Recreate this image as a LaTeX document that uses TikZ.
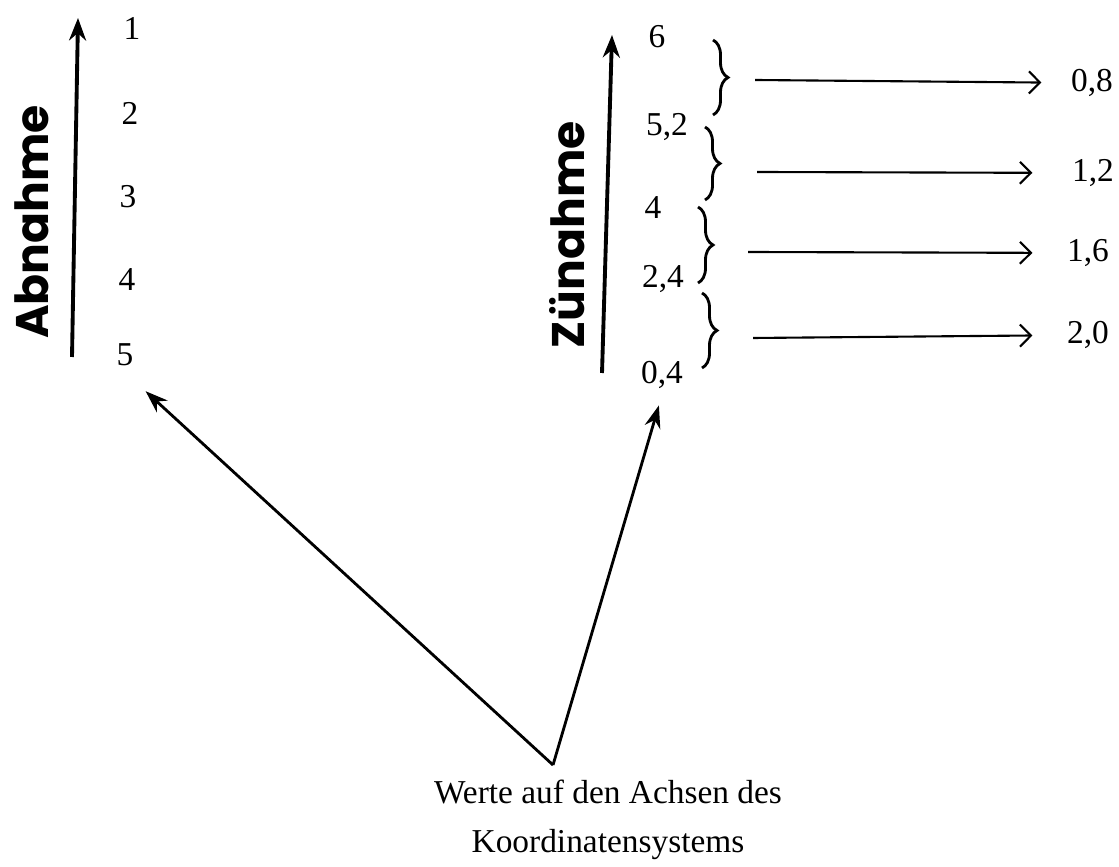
\documentclass[tikz,border=0pt]{standalone}
\usepackage{fontspec}
\setmainfont{Liberation Serif}
\newfontfamily\handfont{Poppins}
\usetikzlibrary{arrows.meta,positioning,calc,decorations.pathreplacing}

\begin{document}
\begin{tikzpicture}[font=\fontsize{19}{27.5}\selectfont,
  achse/.style={line width=2.2pt,-{Stealth[length=4.5mm,width=3.4mm]}},
  pfeil/.style={line width=1.2pt,-{Straight Barb[length=2.2mm,width=4.4mm]}},
  zeiger/.style={line width=1.6pt,-{Stealth[length=4.5mm,width=3.2mm]}},
  klammer/.style={decorate,decoration={brace,amplitude=0.3cm},line width=1.6pt},
  hand/.style={font=\handfont\bfseries\fontsize{26}{30}\selectfont,rotate=90}]
  \useasboundingbox (0,0) rectangle (22.38,17.32);
  % --- linke Achse : Abnahme ---
  \coordinate (a0) at (1.44,10.18);
  \coordinate (a1) at (1.56,16.96);
  \draw[achse] (a0) -- (a1);
  \node[hand] (abn) at (0.64,12.88) {Abnahme};
  \node (l1) at (2.64,16.76) {1};
  \node (l2) at (2.60,15.06) {2};
  \node (l3) at (2.56,13.38) {3};
  \node (l4) at (2.54,11.72) {4};
  \node (l5) at (2.50,10.22) {5};
  % --- rechte Achse : Zuenahme ---
  \coordinate (z0) at (12.04,9.86);
  \coordinate (z1) at (12.24,16.62);
  \draw[achse] (z0) -- (z1);
  \node[hand] (zun) at (11.34,12.62) {Zünahme};
  \node (r6)  at (13.14,16.58) {6};
  \node (r52) at (13.34,14.78) {5,2};
  \node (r4)  at (13.06,13.16) {4};
  \node (r24) at (13.26,11.74) {2,4};
  \node (r04) at (13.24,9.82)  {0,4};
  % Klammern zwischen den Werten
  \draw[klammer] (14.26,16.52) -- (14.26,15.02);
  \draw[klammer] (14.10,14.78) -- (14.10,13.32);
  \draw[klammer] (13.96,13.18) -- (13.96,11.66);
  \draw[klammer] (14.04,11.46) -- (14.04,9.96);
  % Differenzen
  \node (w08) at (21.84,15.66) {0,8};
  \node (w12) at (21.86,13.86) {1,2};
  \node (w16) at (21.76,12.26) {1,6};
  \node (w20) at (21.76,10.62) {2,0};
  \coordinate (k1) at (15.10,15.72);
  \coordinate (k2) at (15.14,13.88);
  \coordinate (k3) at (14.96,12.28);
  \coordinate (k4) at (15.06,10.56);
  \draw[pfeil,shorten >=0.47cm] (k1) -- (w08);
  \draw[pfeil,shorten >=0.67cm] (k2) -- (w12);
  \draw[pfeil,shorten >=0.57cm] (k3) -- (w16);
  \draw[pfeil,shorten >=0.57cm] (k4) -- (w20);
  % --- Beschriftung unten ---
  \node[align=center] (txt) at (12.16,0.92) {Werte auf den Achsen des\\Koordinatensystems};
  \coordinate (apex) at (11.06,2.02);
  \draw[zeiger,shorten >=0.56cm] (apex) -- (l5.south);
  \draw[zeiger,shorten >=0.22cm] (apex) -- (r04.south);
\end{tikzpicture}
\end{document}
